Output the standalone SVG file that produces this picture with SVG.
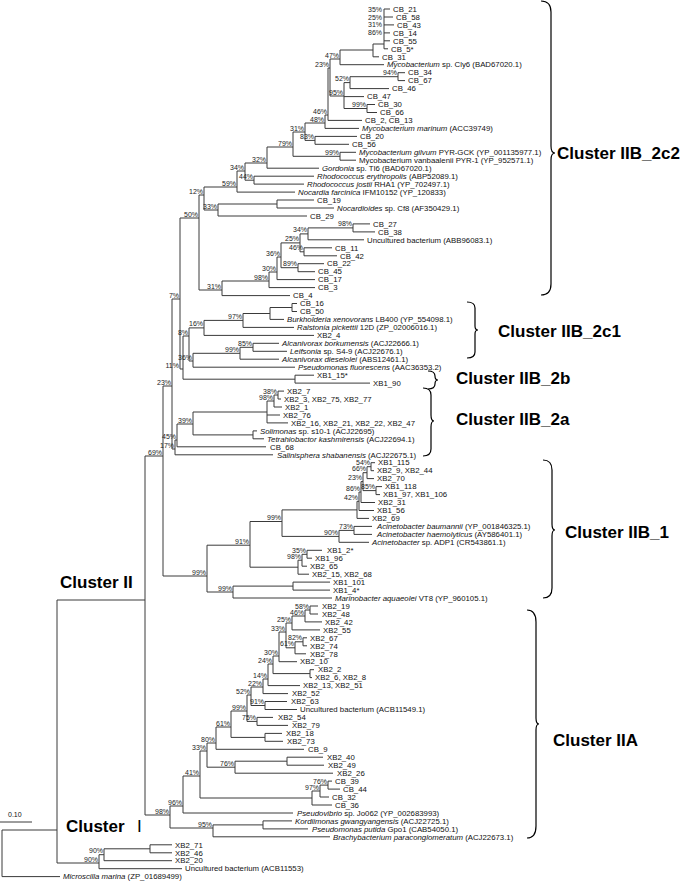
<svg xmlns="http://www.w3.org/2000/svg" width="685" height="881" viewBox="0 0 685 881">
<style>
.b{fill:none;stroke:#3a3a3a;stroke-width:1}
.t{font-family:"Liberation Sans",Arial,sans-serif;font-size:7.8px;fill:#111}
.i{font-style:italic}
.s{font-family:"Liberation Sans",Arial,sans-serif;font-size:7px;fill:#222;text-anchor:end}
.c{font-family:"Liberation Sans",Arial,sans-serif;font-size:17px;font-weight:bold;fill:#000}
.k{fill:none;stroke:#000;stroke-width:1.2}
</style>
<rect width="685" height="881" fill="#fff"/>
<g id="connectors">
<path class="b" d="M384,9V48.8M384,9H390M384,17H393M384,24.9H394M384,32.9H390M384,40.8H390M384,48.8H388"/>
<path class="b" d="M373,44V56.8M373,44H384M373,56.8H379"/>
<path class="b" d="M340,50V64.7M340,50H373M340,64.7H384"/>
<path class="b" d="M398,72.7V80.6M398,72.7H405M398,80.6H405"/>
<path class="b" d="M350,76.7V88.6M350,76.7H398M350,88.6H389"/>
<path class="b" d="M367,104.5V112.5M367,104.5H375M367,112.5H377"/>
<path class="b" d="M344,82.6V108.5M344,82.6H350M344,96.6H364M344,108.5H367"/>
<path class="b" d="M330,59V96M330,59H340M330,96H344"/>
<path class="b" d="M328,68V120.4M328,68H330M328,120.4H362"/>
<path class="b" d="M325,115V128.4M325,115H328M325,128.4H359"/>
<path class="b" d="M315,136.4V144.3M315,136.4H357M315,144.3H349"/>
<path class="b" d="M305,123V140.4M305,123H325M305,140.4H315"/>
<path class="b" d="M340,152.3V160.2M340,152.3H356M340,160.2H356"/>
<path class="b" d="M293,132V156.3M293,132H305M293,156.3H340"/>
<path class="b" d="M267,147V168.2M267,147H293M267,168.2H319"/>
<path class="b" d="M254,176.2V184.1M254,176.2H314M254,184.1H304"/>
<path class="b" d="M245,163V180.2M245,163H267M245,180.2H254"/>
<path class="b" d="M237,171V192.1M237,171H245M237,192.1H295"/>
<path class="b" d="M277,200V208M277,200H314M277,208H334"/>
<path class="b" d="M218,204V216M218,204H277M218,216H307"/>
<path class="b" d="M204,187V210M204,187H237M204,210H218"/>
<path class="b" d="M353,223.9V231.9M353,223.9H370M353,231.9H375"/>
<path class="b" d="M308,227.9V239.8M308,227.9H353M308,239.8H364"/>
<path class="b" d="M304,247.8V255.8M304,247.8H332M304,255.8H337"/>
<path class="b" d="M300,233.9V251.8M300,233.9H308M300,251.8H304"/>
<path class="b" d="M298,263.7V271.7M298,263.7H324M298,271.7H315"/>
<path class="b" d="M281,242.9V267.7M281,242.9H300M281,267.7H298"/>
<path class="b" d="M277,257V279.6M277,257H281M277,279.6H315"/>
<path class="b" d="M269,272V287.6M269,272H277M269,287.6H315"/>
<path class="b" d="M222,281V295.6M222,281H269M222,295.6H290"/>
<path class="b" d="M199,195V290M199,195H204M199,290H222"/>
<path class="b" d="M292,303.5V311.5M292,303.5H297M292,311.5H297"/>
<path class="b" d="M270,307.5V319.4M270,307.5H292M270,319.4H284"/>
<path class="b" d="M243,313.5V327.4M243,313.5H270M243,327.4H294"/>
<path class="b" d="M204,320.4V335.4M204,320.4H243M204,335.4H314"/>
<path class="b" d="M253,343.3V351.3M253,343.3H279M253,351.3H287"/>
<path class="b" d="M240,347.3V359.2M240,347.3H253M240,359.2H279"/>
<path class="b" d="M193,353.3V367.2M193,353.3H240M193,367.2H295"/>
<path class="b" d="M189,327.9V361M189,327.9H204M189,361H193"/>
<path class="b" d="M295,375.2V383.1M295,375.2H314M295,383.1H370"/>
<path class="b" d="M183,336V379.2M183,336H189M183,379.2H295"/>
<path class="b" d="M180,218V369M180,218H199M180,369H183"/>
<path class="b" d="M278,391.1V399M278,391.1H284M278,399H281"/>
<path class="b" d="M274,395V407M274,395H278M274,407H282"/>
<path class="b" d="M267,401V422.9M267,401H274M267,415H280M267,422.9H288"/>
<path class="b" d="M253,430.9V438.8M253,430.9H257M253,438.8H264"/>
<path class="b" d="M193,412V434.9M193,412H267M193,434.9H253"/>
<path class="b" d="M177,424V446.8M177,424H193M177,446.8H266"/>
<path class="b" d="M175,440V454.8M175,440H177M175,454.8H273"/>
<path class="b" d="M172,299V449M172,299H180M172,449H175"/>
<path class="b" d="M163,386V576M163,386H172M163,576H207"/>
<path class="b" d="M371,462.7V470.7M371,462.7H375M371,470.7H374"/>
<path class="b" d="M367,466.7V478.6M367,466.7H371M367,478.6H374"/>
<path class="b" d="M376,486.6V494.6M376,486.6H382M376,494.6H380"/>
<path class="b" d="M363,472.7V490.6M363,472.7H367M363,490.6H376"/>
<path class="b" d="M361,481.6V502.5M361,481.6H363M361,502.5H375"/>
<path class="b" d="M359,492V510.5M359,492H361M359,510.5H374"/>
<path class="b" d="M357,501.3V518.4M357,501.3H359M357,518.4H369"/>
<path class="b" d="M354,526.4V534.4M354,526.4H372M354,534.4H372"/>
<path class="b" d="M339,530.4V542.3M339,530.4H354M339,542.3H369"/>
<path class="b" d="M282,509.9V536.4M282,509.9H357M282,536.4H339"/>
<path class="b" d="M307,550.3V558.2M307,550.3H322M307,558.2H312"/>
<path class="b" d="M302,554.3V566.2M302,554.3H307M302,566.2H307"/>
<path class="b" d="M298,560.2V574.2M298,560.2H302M298,574.2H309"/>
<path class="b" d="M250,521.5V567.2M250,521.5H282M250,567.2H298"/>
<path class="b" d="M293,582.1V590.1M293,582.1H330M293,590.1H330"/>
<path class="b" d="M233,586.1V598M233,586.1H293M233,598H332"/>
<path class="b" d="M207,545.2V592M207,545.2H250M207,592H233"/>
<path class="b" d="M310,606V614M310,606H318M310,614H318"/>
<path class="b" d="M305,610V621.9M305,610H310M305,621.9H322"/>
<path class="b" d="M292,616V629.9M292,616H305M292,629.9H320"/>
<path class="b" d="M303,637.8V645.8M303,637.8H307M303,645.8H307"/>
<path class="b" d="M295,641.8V653.8M295,641.8H303M295,653.8H306"/>
<path class="b" d="M286,623V647.8M286,623H292M286,647.8H295"/>
<path class="b" d="M279,632V661.7M279,632H286M279,661.7H297"/>
<path class="b" d="M310,669.7V677.6M310,669.7H314M310,677.6H312"/>
<path class="b" d="M273,656V673.6M273,656H279M273,673.6H310"/>
<path class="b" d="M268,664V685.6M268,664H273M268,685.6H300"/>
<path class="b" d="M263,679V693.6M263,679H268M263,693.6H288"/>
<path class="b" d="M265,701.5V709.5M265,701.5H287M265,709.5H297"/>
<path class="b" d="M251,687V705.5M251,687H263M251,705.5H265"/>
<path class="b" d="M257,717.4V725.4M257,717.4H273M257,725.4H288"/>
<path class="b" d="M247,695V721.4M247,695H251M247,721.4H257"/>
<path class="b" d="M265,733.4V741.3M265,733.4H282M265,741.3H283"/>
<path class="b" d="M231,711V737.4M231,711H247M231,737.4H265"/>
<path class="b" d="M216,727V749.3M216,727H231M216,749.3H304"/>
<path class="b" d="M287,757.2V765.2M287,757.2H323M287,765.2H324"/>
<path class="b" d="M235,761.2V773.2M235,761.2H287M235,773.2H333"/>
<path class="b" d="M207,743V767.2M207,743H216M207,767.2H235"/>
<path class="b" d="M328,781.1V789.1M328,781.1H332M328,789.1H340"/>
<path class="b" d="M320,785.1V797M320,785.1H328M320,797H329"/>
<path class="b" d="M312,791V805M312,791H320M312,805H332"/>
<path class="b" d="M200,751V798M200,751H207M200,798H312"/>
<path class="b" d="M183,776V813M183,776H200M183,813H293"/>
<path class="b" d="M263,820.9V828.9M263,820.9H292M263,828.9H308"/>
<path class="b" d="M213,824.9V836.8M213,824.9H263M213,836.8H330"/>
<path class="b" d="M170,806V828M170,806H183M170,828H213"/>
<path class="b" d="M145,456V815M145,456H163M145,815H170"/>
<path class="b" d="M150,844.8V852.8M150,844.8H172M150,852.8H172"/>
<path class="b" d="M104,848.8V860.7M104,848.8H150M104,860.7H172"/>
<path class="b" d="M99,854.7V868.7M99,854.7H104M99,868.7H182"/>
<path class="b" d="M57,600V863M57,600H145M57,863H99"/>
<path class="b" d="M2,830V876.6M2,830H57M2,876.6H60"/>
</g>
<g id="bootstrap">
<text class="s" x="382" y="11.5">35%</text><text class="s" x="382" y="19.5">25%</text><text class="s" x="382" y="27.4">31%</text><text class="s" x="382" y="35.4">86%</text>
<text class="s" x="339" y="57.5">47%</text><text class="s" x="329" y="66.5">23%</text><text class="s" x="397" y="75.2">94%</text><text class="s" x="349" y="81">52%</text>
<text class="s" x="343" y="94.5">95%</text><text class="s" x="366" y="107">99%</text><text class="s" x="327" y="113.5">46%</text><text class="s" x="324" y="121.5">48%</text>
<text class="s" x="304" y="130.5">31%</text><text class="s" x="314" y="139">83%</text><text class="s" x="339" y="155">99%</text><text class="s" x="292" y="145.5">79%</text>
<text class="s" x="266" y="161.5">32%</text><text class="s" x="253" y="178.7">44%</text><text class="s" x="244" y="169.5">34%</text><text class="s" x="236" y="185.5">59%</text>
<text class="s" x="217" y="208.5">33%</text><text class="s" x="203" y="193.5">12%</text><text class="s" x="352" y="226.4">98%</text><text class="s" x="307" y="232.4">34%</text>
<text class="s" x="303" y="250.3">46%</text><text class="s" x="299" y="241.4">25%</text><text class="s" x="297" y="266.2">89%</text><text class="s" x="280" y="255.5">36%</text>
<text class="s" x="276" y="270.5">30%</text><text class="s" x="268" y="279.5">98%</text><text class="s" x="221" y="288.5">31%</text><text class="s" x="198" y="216.5">50%</text>
<text class="s" x="242" y="318.9">97%</text><text class="s" x="203" y="326.4">16%</text><text class="s" x="252" y="345.8">85%</text><text class="s" x="239" y="351.8">99%</text>
<text class="s" x="192" y="359.5">36%</text><text class="s" x="188" y="334.5">8%</text><text class="s" x="179" y="367.5">11%</text><text class="s" x="179" y="297.5">7%</text>
<text class="s" x="277" y="393.5">38%</text><text class="s" x="273" y="399.5">98%</text><text class="s" x="192" y="422.5">39%</text><text class="s" x="176" y="438.5">45%</text>
<text class="s" x="174" y="447.5">17%</text><text class="s" x="171" y="384.5">23%</text><text class="s" x="162" y="454.5">69%</text>
<text class="s" x="370" y="465.2">54%</text><text class="s" x="366" y="471.2">66%</text><text class="s" x="375" y="489.1">85%</text><text class="s" x="362" y="480.1">23%</text>
<text class="s" x="360" y="491">86%</text><text class="s" x="358" y="499.8">42%</text><text class="s" x="281" y="520">99%</text><text class="s" x="353" y="528.9">73%</text>
<text class="s" x="338" y="534.9">90%</text><text class="s" x="249" y="543.7">91%</text><text class="s" x="306" y="552.8">35%</text><text class="s" x="301" y="558.7">98%</text>
<text class="s" x="232" y="590.5">99%</text><text class="s" x="206" y="574.5">99%</text>
<text class="s" x="309" y="608.5">58%</text><text class="s" x="304" y="614.5">46%</text><text class="s" x="291" y="621.5">25%</text><text class="s" x="302" y="640.3">82%</text>
<text class="s" x="294" y="646.3">61%</text><text class="s" x="285" y="630.5">33%</text><text class="s" x="278" y="654.5">30%</text><text class="s" x="272" y="662.5">24%</text>
<text class="s" x="267" y="677.5">14%</text><text class="s" x="262" y="685.5">22%</text><text class="s" x="264" y="704">91%</text><text class="s" x="250" y="693.5">52%</text>
<text class="s" x="256" y="719.9">75%</text><text class="s" x="246" y="709.5">99%</text><text class="s" x="230" y="725.5">61%</text><text class="s" x="215" y="741.5">80%</text>
<text class="s" x="234" y="765.7">76%</text><text class="s" x="206" y="749.5">33%</text><text class="s" x="327" y="783.6">76%</text><text class="s" x="319" y="789.5">97%</text>
<text class="s" x="199" y="774.5">41%</text><text class="s" x="182" y="804.5">96%</text><text class="s" x="212" y="826.5">95%</text><text class="s" x="169" y="813.5">98%</text>
<text class="s" x="103" y="853.2">90%</text><text class="s" x="98" y="861.5">90%</text>
</g>
<g id="leaves">
<g id="L1"><text class="t" x="393" y="11.7">CB_21</text></g>
<g id="L2"><text class="t" x="396" y="19.7">CB_58</text></g>
<g id="L3"><text class="t" x="397" y="27.6">CB_43</text></g>
<g id="L4"><text class="t" x="393" y="35.6">CB_14</text></g>
<g id="L5"><text class="t" x="393" y="43.5">CB_55</text></g>
<g id="L6"><text class="t" x="391" y="51.5">CB_5*</text></g>
<g id="L7"><text class="t" x="382" y="59.5">CB_31</text></g>
<g id="L8"><text class="t" x="387" y="67.4"><tspan class="i">Mycobacterium</tspan> sp. Cly6 (BAD67020.1)</text></g>
<g id="L9"><text class="t" x="408" y="75.4">CB_34</text></g>
<g id="L10"><text class="t" x="408" y="83.3">CB_67</text></g>
<g id="L11"><text class="t" x="392" y="91.3">CB_46</text></g>
<g id="L12"><text class="t" x="367" y="99.3">CB_47</text></g>
<g id="L13"><text class="t" x="378" y="107.2">CB_30</text></g>
<g id="L14"><text class="t" x="380" y="115.2">CB_66</text></g>
<g id="L15"><text class="t" x="365" y="123.1">CB_2, CB_13</text></g>
<g id="L16"><text class="t" x="362" y="131.1"><tspan class="i">Mycobacterium marinum</tspan> (ACC39749)</text></g>
<g id="L17"><text class="t" x="360" y="139.1">CB_20</text></g>
<g id="L18"><text class="t" x="352" y="147">CB_56</text></g>
<g id="L19"><text class="t" x="359" y="155"><tspan class="i">Mycobacterium gilvum</tspan> PYR-GCK (YP_001135977.1)</text></g>
<g id="L20"><text class="t" x="359" y="162.9">Mycobacterium vanbaalenii PYR-1 (YP_952571.1)</text></g>
<g id="L21"><text class="t" x="322" y="170.9"><tspan class="i">Gordonia</tspan> sp. TI6 (BAD67020.1)</text></g>
<g id="L22"><text class="t" x="317" y="178.9"><tspan class="i">Rhodococcus erythropolis</tspan> (ABP52089.1)</text></g>
<g id="L23"><text class="t" x="307" y="186.8"><tspan class="i">Rhodococcus jostii</tspan> RHA1 (YP_702497.1)</text></g>
<g id="L24"><text class="t" x="298" y="194.8"><tspan class="i">Nocardia farcinica</tspan> IFM10152 (YP_120833)</text></g>
<g id="L25"><text class="t" x="317" y="202.7">CB_19</text></g>
<g id="L26"><text class="t" x="337" y="210.7"><tspan class="i">Nocardioides</tspan> sp. Cf8 (AF350429.1)</text></g>
<g id="L27"><text class="t" x="310" y="218.7">CB_29</text></g>
<g id="L28"><text class="t" x="373" y="226.6">CB_27</text></g>
<g id="L29"><text class="t" x="378" y="234.6">CB_38</text></g>
<g id="L30"><text class="t" x="367" y="242.5">Uncultured bacterium (ABB96083.1)</text></g>
<g id="L31"><text class="t" x="335" y="250.5">CB_11</text></g>
<g id="L32"><text class="t" x="340" y="258.5">CB_42</text></g>
<g id="L33"><text class="t" x="327" y="266.4">CB_22</text></g>
<g id="L34"><text class="t" x="318" y="274.4">CB_45</text></g>
<g id="L35"><text class="t" x="318" y="282.3">CB_17</text></g>
<g id="L36"><text class="t" x="318" y="290.3">CB_3</text></g>
<g id="L37"><text class="t" x="293" y="298.3">CB_4</text></g>
<g id="L38"><text class="t" x="300" y="306.2">CB_16</text></g>
<g id="L39"><text class="t" x="300" y="314.2">CB_50</text></g>
<g id="L40"><text class="t" x="287" y="322.1"><tspan class="i">Burkholderia xenovorans</tspan> LB400 (YP_554098.1)</text></g>
<g id="L41"><text class="t" x="297" y="330.1"><tspan class="i">Ralstonia pickettii</tspan> 12D (ZP_02006016.1)</text></g>
<g id="L42"><text class="t" x="317" y="338.1">XB2_4</text></g>
<g id="L43"><text class="t" x="282" y="346"><tspan class="i">Alcanivorax borkumensis</tspan> (ACJ22666.1)</text></g>
<g id="L44"><text class="t" x="290" y="354"><tspan class="i">Leifsonia</tspan> sp. S4-9 (ACJ22676.1)</text></g>
<g id="L45"><text class="t" x="282" y="361.9"><tspan class="i">Alcanivorax dieselolei</tspan> (ABS12461.1)</text></g>
<g id="L46"><text class="t" x="298" y="369.9"><tspan class="i">Pseudomonas fluorescens</tspan> (AAC36353.2)</text></g>
<g id="L47"><text class="t" x="317" y="377.9">XB1_15*</text></g>
<g id="L48"><text class="t" x="373" y="385.8">XB1_90</text></g>
<g id="L49"><text class="t" x="287" y="393.8">XB2_7</text></g>
<g id="L50"><text class="t" x="284" y="401.7">XB2_3, XB2_75, XB2_77</text></g>
<g id="L51"><text class="t" x="285" y="409.7">XB2_1</text></g>
<g id="L52"><text class="t" x="283" y="417.7">XB2_76</text></g>
<g id="L53"><text class="t" x="291" y="425.6">XB2_16, XB2_21, XB2_22, XB2_47</text></g>
<g id="L54"><text class="t" x="260" y="433.6"><tspan class="i">Solimonas</tspan> sp. s10-1 (ACJ22695)</text></g>
<g id="L55"><text class="t" x="267" y="441.5"><tspan class="i">Tetrahiobactor kashmirensis</tspan> (ACJ22694.1)</text></g>
<g id="L56"><text class="t" x="270" y="449.5">CB_68</text></g>
<g id="L57"><text class="t" x="277" y="457.5"><tspan class="i">Salinisphera shabanensis</tspan> (ACJ22675.1)</text></g>
<g id="L58"><text class="t" x="378" y="465.4">XB1_115</text></g>
<g id="L59"><text class="t" x="377" y="473.4">XB2_9, XB2_44</text></g>
<g id="L60"><text class="t" x="377" y="481.3">XB2_70</text></g>
<g id="L61"><text class="t" x="385" y="489.3">XB1_118</text></g>
<g id="L62"><text class="t" x="383" y="497.3">XB1_97, XB1_106</text></g>
<g id="L63"><text class="t" x="378" y="505.2">XB2_31</text></g>
<g id="L64"><text class="t" x="377" y="513.2">XB1_56</text></g>
<g id="L65"><text class="t" x="372" y="521.1">XB2_69</text></g>
<g id="L66"><text class="t" x="377" y="529.1"><tspan class="i">Acinetobacter baumannii</tspan> (YP_001846325.1)</text></g>
<g id="L67"><text class="t" x="377" y="537.1"><tspan class="i">Acinetobacter haemolyticus</tspan> (AY586401.1)</text></g>
<g id="L68"><text class="t" x="372" y="545"><tspan class="i">Acinetobacter</tspan> sp. ADP1 (CR543861.1)</text></g>
<g id="L69"><text class="t" x="327" y="553">XB1_2*</text></g>
<g id="L70"><text class="t" x="315" y="560.9">XB1_96</text></g>
<g id="L71"><text class="t" x="310" y="568.9">XB2_65</text></g>
<g id="L72"><text class="t" x="312" y="576.9">XB2_15, XB2_68</text></g>
<g id="L73"><text class="t" x="333" y="584.8">XB1_101</text></g>
<g id="L74"><text class="t" x="333" y="592.8">XB1_4*</text></g>
<g id="L75"><text class="t" x="335" y="600.7"><tspan class="i">Marinobacter aquaeolei</tspan> VT8 (YP_960105.1)</text></g>
<g id="L76"><text class="t" x="322" y="608.7">XB2_19</text></g>
<g id="L77"><text class="t" x="322" y="616.7">XB2_48</text></g>
<g id="L78"><text class="t" x="325" y="624.6">XB2_42</text></g>
<g id="L79"><text class="t" x="323" y="632.6">XB2_55</text></g>
<g id="L80"><text class="t" x="310" y="640.5">XB2_67</text></g>
<g id="L81"><text class="t" x="310" y="648.5">XB2_74</text></g>
<g id="L82"><text class="t" x="310" y="656.5">XB2_78</text></g>
<g id="L83"><text class="t" x="300" y="664.4">XB2_10</text></g>
<g id="L84"><text class="t" x="318" y="672.4">XB2_2</text></g>
<g id="L85"><text class="t" x="315" y="680.3">XB2_6, XB2_8</text></g>
<g id="L86"><text class="t" x="303" y="688.3">XB2_13, XB2_51</text></g>
<g id="L87"><text class="t" x="292" y="696.3">XB2_52</text></g>
<g id="L88"><text class="t" x="291" y="704.2">XB2_63</text></g>
<g id="L89"><text class="t" x="300" y="712.2">Uncultured bacterium (ACB11549.1)</text></g>
<g id="L90"><text class="t" x="278" y="720.1">XB2_54</text></g>
<g id="L91"><text class="t" x="292" y="728.1">XB2_79</text></g>
<g id="L92"><text class="t" x="286" y="736.1">XB2_18</text></g>
<g id="L93"><text class="t" x="287" y="744">XB2_73</text></g>
<g id="L94"><text class="t" x="308" y="752">CB_9</text></g>
<g id="L95"><text class="t" x="327" y="759.9">XB2_40</text></g>
<g id="L96"><text class="t" x="328" y="767.9">XB2_49</text></g>
<g id="L97"><text class="t" x="337" y="775.9">XB2_26</text></g>
<g id="L98"><text class="t" x="335" y="783.8">CB_39</text></g>
<g id="L99"><text class="t" x="343" y="791.8">CB_44</text></g>
<g id="L100"><text class="t" x="332" y="799.7">CB_32</text></g>
<g id="L101"><text class="t" x="335" y="807.7">CB_36</text></g>
<g id="L102"><text class="t" x="297" y="815.7"><tspan class="i">Pseudovibrio</tspan> sp. Jo062 (YP_002683993)</text></g>
<g id="L103"><text class="t" x="295" y="823.6"><tspan class="i">Kordiimonas gwangyangensis</tspan> (ACJ22725.1)</text></g>
<g id="L104"><text class="t" x="312" y="831.6"><tspan class="i">Pseudomonas putida</tspan> Gpo1 (CAB54050.1)</text></g>
<g id="L105"><text class="t" x="333" y="839.5"><tspan class="i">Brachybacterium paraconglomeratum</tspan> (ACJ22673.1)</text></g>
<g id="L106"><text class="t" x="175" y="847.5">XB2_71</text></g>
<g id="L107"><text class="t" x="175" y="855.5">XB2_46</text></g>
<g id="L108"><text class="t" x="175" y="863.4">XB2_20</text></g>
<g id="L109"><text class="t" x="185" y="871.4">Uncultured bacterium (ACB11553)</text></g>
<g id="L110"><text class="t" x="63" y="879.3"><tspan class="i">Microscilla marina</tspan> (ZP_01689499)</text></g>
</g>
<g id="clusters">
<g id="c2c2"><path class="k" d="M541,1Q551,1 551,12L551,146Q551,153 555,153Q551,153 551,160L551,284Q551,295 541,295"/><text class="c" x="557" y="159">Cluster IIB_2c2</text></g>
<g id="c2c1"><path class="k" d="M467,302Q475,302 475,308L475,326Q475,330 478,330Q475,330 475,334L475,352Q475,358 467,358"/><text class="c" x="498" y="337">Cluster IIB_2c1</text></g>
<g id="c2b"><path class="k" d="M428,371Q435,371 435,376Q435,380 438,380Q435,380 435,384Q435,389 428,389"/><text class="c" x="456" y="384">Cluster IIB_2b</text></g>
<g id="c2a"><path class="k" d="M423,388Q431,388 431,395L431,415Q431,421 434,421Q431,421 431,427L431,449Q431,456 423,456"/><text class="c" x="456" y="425">Cluster IIB_2a</text></g>
<g id="c1b"><path class="k" d="M543,460Q552,460 552,470L552,524Q552,530 555,530Q552,530 552,536L552,588Q552,598 543,598"/><text class="c" x="565" y="538">Cluster IIB_1</text></g>
<g id="c2"><path class="k" d="M527,610Q536,610 536,622L536,718Q536,724 539,724Q536,724 536,730L536,826Q536,838 527,838"/><text class="c" x="553" y="746">Cluster IIA</text></g>
<g id="cII"><text class="c" x="60" y="588">Cluster II</text></g>
<g id="cI"><text class="c" x="66" y="832">Cluster <tspan x="137" font-weight="normal">I</tspan></text></g>
</g>
<g id="scale">
<text class="t" x="8" y="817" style="font-size:7px">0.10</text>
<path class="b" d="M0,822H32"/>
</g>
</svg>
